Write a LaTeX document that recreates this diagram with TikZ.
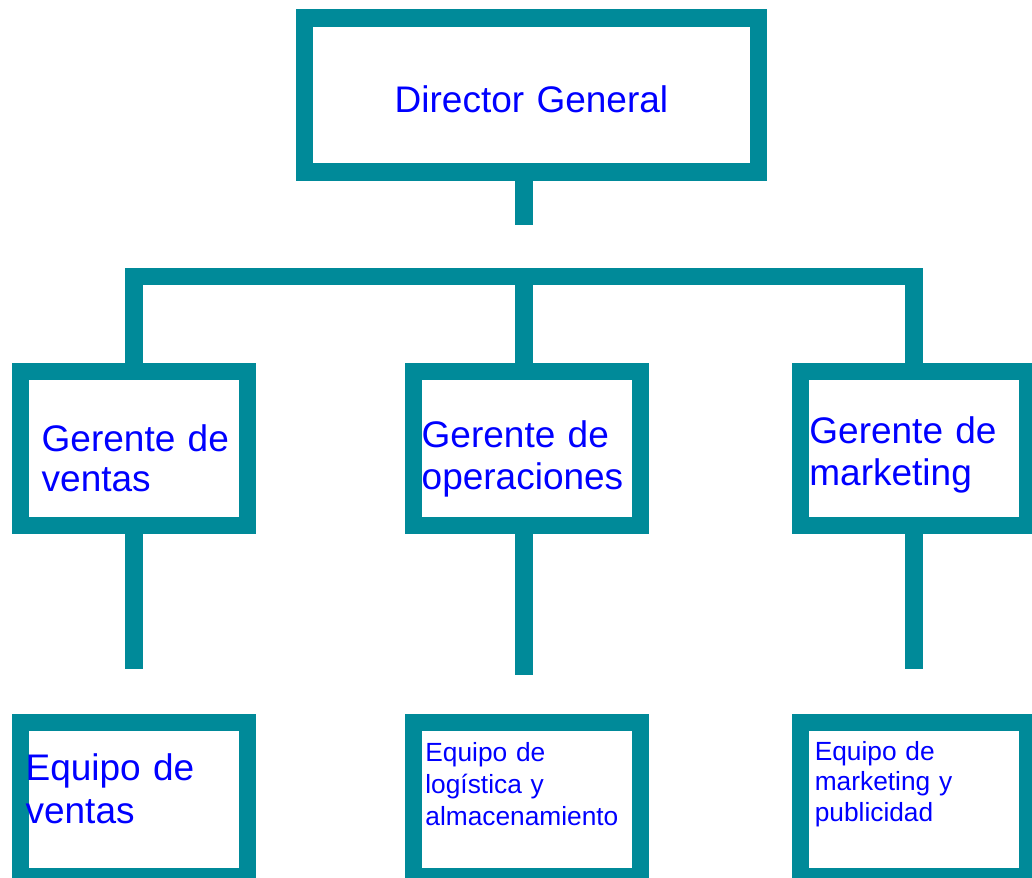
\documentclass[tikz,border=0pt]{standalone}
\usepackage{fontspec}
\setmainfont{Liberation Sans}
\definecolor{tealline}{RGB}{0,138,153}
\definecolor{txtblue}{RGB}{0,0,255}
\begin{document}
\begin{tikzpicture}[x=1pt,y=-1pt,
  box/.style={draw=tealline, line width=17.5pt, fill=white, minimum width=227pt, minimum height=154.3pt, inner sep=0pt},
  conn/.style={draw=tealline, line width=17.5pt, line cap=butt, line join=miter},
  bigtext/.style={text=txtblue, font=\fontsize{37}{41}\selectfont, inner sep=0pt, anchor=base west, text width=300pt, align=left},
  smalltext/.style={text=txtblue, font=\fontsize{26.3}{31.5}\selectfont, inner sep=0pt, anchor=base west, text width=250pt, align=left}]
\useasboundingbox (0,0) rectangle (1032,877);
% boxes
\node[box, minimum width=454.4pt, minimum height=154.4pt] (dir) at (531.5,95) {};
\node[box] (g1) at (133.85,448.45) {};
\node[box] (g2) at (526.9,448.45) {};
\node[box] (g3) at (913.9,448.45) {};
\node[box] (e1) at (133.85,799.4) {};
\node[box] (e2) at (526.9,799.4) {};
\node[box] (e3) at (913.9,799.4) {};
% connectors
\coordinate (d0) at (524,225.3);
\draw[conn] (dir.south -| d0) -- (d0);
\coordinate (bl) at (133.85,276.7);
\coordinate (br) at (913.9,276.7);
\coordinate (bm) at (524,276.7);
\draw[conn] (g1.north) -- (g1.north |- bl) -- (br) -- (g3.north);
\draw[conn] (bm) -- (bm |- g2.north);
\coordinate (s1) at (133.85,669.3);
\coordinate (s2) at (524,675);
\coordinate (s3) at (913.9,669.3);
\draw[conn] (g1.south) -- (s1);
\draw[conn] (g2.south -| s2) -- (s2);
\draw[conn] (g3.south) -- (s3);
% texts
\node[bigtext] (tdir) at (394.5,112.7) {Director General};
\node[bigtext, font=\fontsize{37}{40.7}\selectfont] (tg1) at (41.5,451) {Gerente de\\ventas};
\node[bigtext, font=\fontsize{37}{42}\selectfont] (tg2) at (421.5,447.3) {Gerente de\\operaciones};
\node[bigtext, font=\fontsize{37}{41.7}\selectfont] (tg3) at (809.2,443.3) {Gerente de\\marketing};
\node[bigtext, font=\fontsize{37}{43.3}\selectfont] (te1) at (25.4,780) {Equipo de\\ventas};
\node[smalltext, font=\fontsize{26.3}{31.7}\selectfont] (te2) at (425.2,761.7) {Equipo de\\logística y\\almacenamiento};
\node[smalltext, font=\fontsize{26.3}{30.8}\selectfont] (te3) at (814.6,760) {Equipo de\\marketing y\\publicidad};
\end{tikzpicture}
\end{document}
